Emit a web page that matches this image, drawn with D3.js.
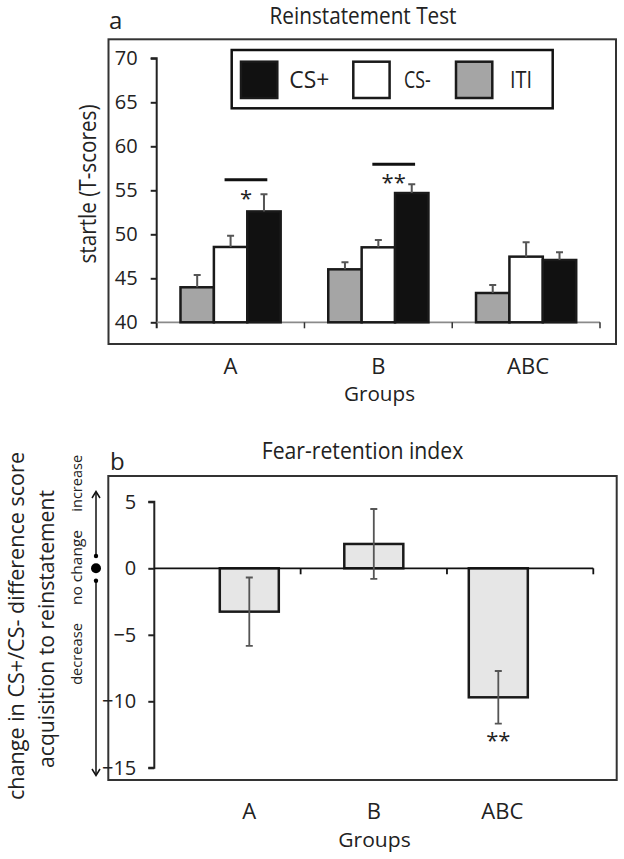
<!DOCTYPE html>
<html>
<head>
<meta charset="utf-8">
<script src="https://cdn.jsdelivr.net/npm/d3@7"></script>
<style>
  body { margin: 0; background: #fff; }
  svg { display: block; }
  text { font-family: "Open Sans", "Noto Sans", sans-serif; fill: #222; }
</style>
</head>
<body>
<script>
// ---------------- data ----------------
const groups = ["A", "B", "ABC"];
const conditions = ["ITI", "CS-", "CS+"];
const itiMean = [43.98, 46.02, 43.33];
const itiSE = [1.40, 0.80, 0.91];
const csMinusMean = [48.56, 48.52, 47.46];
const csMinusSE = [1.28, 0.83, 1.63];
const csPlusMean = [52.60, 54.69, 47.08];
const csPlusSE = [1.95, 0.99, 0.87];
const yTicksA = [40, 45, 50, 55, 60, 65, 70];
const sigGroups = ["A", "B"];
const sigLevel = [56.2, 57.95];
const sigStars = ["*", "**"];

const fearIndex = [-3.26, 1.83, -9.70];
const fearSE = [2.57, 2.63, 1.98];
const fearStars = ["", "", "**"];
const yTicksB = [5, 0, -5, -10, -15];

const legendLabels = ["CS+", "CS-", "ITI"];
const fills = { "ITI": "#a5a5a5", "CS-": "#ffffff", "CS+": "#111111" };

// ---------------- setup ----------------
const W = 624, H = 859;
const svg = d3.select("body").append("svg").attr("width", W).attr("height", H);
svg.append("rect").attr("width", W).attr("height", H).attr("fill", "#fff");

function fit(sel, len) {
  return sel.attr("textLength", len).attr("lengthAdjust", "spacingAndGlyphs");
}

// ================= PANEL A =================
const rowsA = groups.map((g, i) => ({
  group: g,
  vals: [
    { cond: "ITI", mean: itiMean[i], se: itiSE[i] },
    { cond: "CS-", mean: csMinusMean[i], se: csMinusSE[i] },
    { cond: "CS+", mean: csPlusMean[i], se: csPlusSE[i] }
  ]
}));

const yA = d3.scaleLinear().domain([40, 70]).range([322.3, 58.3]);
const x0A = d3.scaleBand().domain(groups).range([156.7, 600]).paddingInner(0).paddingOuter(0);
const x1A = d3.scaleBand().domain(conditions).range([0, x0A.bandwidth()]).paddingInner(0).paddingOuter(0.7125);

// frame
svg.append("rect").attr("x", 108.5).attr("y", 39.3).attr("width", 507.5).attr("height", 304.7)
  .attr("fill", "none").attr("stroke", "#333").attr("stroke-width", 2);

// title + panel letter
fit(svg.append("text").attr("x", 363).attr("y", 23.5).attr("text-anchor", "middle")
  .attr("font-size", 23).text("Reinstatement Test"), 187);
svg.append("text").attr("x", 109).attr("y", 28.5).attr("font-size", 24).text("a");

// y axis
const gyA = svg.append("g").attr("transform", "translate(156.7,0)")
  .call(d3.axisLeft(yA).tickValues(yTicksA).tickSize(6).tickPadding(13).tickFormat(d3.format("d")));
gyA.select(".domain").attr("stroke", "#222").attr("stroke-width", 2).attr("d", `M-6,${yA(70)}H0V${yA(40) + 6}`);
gyA.selectAll(".tick line").attr("stroke", "#222").attr("stroke-width", 2);
gyA.selectAll(".tick text").attr("font-size", 20).attr("font-family", "Open Sans").attr("fill", "#222");

// x baseline & ticks
svg.append("line").attr("x1", 156.7).attr("x2", 600).attr("y1", yA(40)).attr("y2", yA(40))
  .attr("stroke", "#8a8a8a").attr("stroke-width", 1.8);
const edgesA = groups.map(g => x0A(g) + x0A.bandwidth());
svg.selectAll(".xtickA").data(edgesA).join("line")
  .attr("x1", d => d).attr("x2", d => d).attr("y1", yA(40)).attr("y2", yA(40) + 6)
  .attr("stroke", "#333").attr("stroke-width", 1.5);

// bars
const gGroupsA = svg.selectAll(".grpA").data(rowsA).join("g")
  .attr("transform", d => `translate(${x0A(d.group)},0)`);
gGroupsA.selectAll("rect").data(d => d.vals).join("rect")
  .attr("x", d => x1A(d.cond)).attr("width", x1A.bandwidth())
  .attr("y", d => yA(d.mean)).attr("height", d => yA(40) - yA(d.mean))
  .attr("fill", d => fills[d.cond]).attr("stroke", "#1a1a1a").attr("stroke-width", 2.5);
// error bars (upward)
gGroupsA.selectAll(".err").data(d => d.vals).join("path")
  .attr("d", d => {
    const cx = x1A(d.cond) + x1A.bandwidth() / 2;
    const top = yA(d.mean + d.se);
    return `M${cx},${yA(d.mean)}V${top}M${cx - 3.5},${top}H${cx + 3.5}`;
  })
  .attr("fill", "none").attr("stroke", "#555").attr("stroke-width", 2);

// significance lines
sigGroups.forEach((g, i) => {
  const xs = x0A(g) + x1A("CS-") + x1A.bandwidth() * 0.32;
  const xe = x0A(g) + x1A("CS+") + x1A.bandwidth() * 0.6;
  svg.append("line").attr("x1", xs).attr("x2", xe).attr("y1", yA(sigLevel[i])).attr("y2", yA(sigLevel[i]))
    .attr("stroke", "#111").attr("stroke-width", 3);
  svg.append("text").attr("x", (xs + xe) / 2).attr("y", yA(sigLevel[i]) + 26)
    .attr("text-anchor", "middle").attr("font-size", 22).attr("fill", "#444").text(sigStars[i]);
});

// x labels
svg.selectAll(".xlabA").data(groups).join("text")
  .attr("x", d => x0A(d) + x0A.bandwidth() / 2 + (d === "ABC" ? 2 : 0)).attr("y", 373.5)
  .attr("text-anchor", "middle").attr("font-size", 22).text(d => d);
fit(svg.append("text").attr("x", 379.5).attr("y", 401).attr("text-anchor", "middle")
  .attr("font-size", 20).text("Groups"), 71);

// y label
fit(svg.append("text").attr("transform", "translate(96,184) rotate(-90)").attr("text-anchor", "middle")
  .attr("font-size", 23).text("startle (T-scores)"), 159);

// legend
svg.append("rect").attr("x", 231.7).attr("y", 50).attr("width", 321).attr("height", 58.3)
  .attr("fill", "#fff").attr("stroke", "#111").attr("stroke-width", 2.5);
const legX = [241, 353.3, 456];
const legTX = [289.3, 404, 510];
const legTW = [40, 26.7, 22];
legendLabels.forEach((l, i) => {
  svg.append("rect").attr("x", legX[i]).attr("y", 61.7).attr("width", 36.3).attr("height", 36.3)
    .attr("fill", fills[l]).attr("stroke", "#1a1a1a").attr("stroke-width", 2.5);
  fit(svg.append("text").attr("x", legTX[i]).attr("y", 87.5).attr("font-size", 23).text(l), legTW[i]);
});

// ================= PANEL B =================
const yB = d3.scaleLinear().domain([-15, 5]).range([767.8, 501.8]);
const xB = d3.scaleBand().domain(groups).range([154.3, 593.3]).padding(0.526);
const bandB = (593.3 - 154.3) / groups.length;

svg.append("rect").attr("x", 108.3).attr("y", 476).attr("width", 508.4).attr("height", 304)
  .attr("fill", "none").attr("stroke", "#333").attr("stroke-width", 2);

fit(svg.append("text").attr("x", 362.5).attr("y", 458.5).attr("text-anchor", "middle")
  .attr("font-size", 23).text("Fear-retention index"), 201.6);
svg.append("text").attr("x", 110).attr("y", 470).attr("font-size", 24).text("b");

// y axis
const gyB = svg.append("g").attr("transform", "translate(154.3,0)")
  .call(d3.axisLeft(yB).tickValues(yTicksB).tickSize(6).tickPadding(12).tickFormat(d3.format("d")));
gyB.select(".domain").attr("stroke", "#222").attr("stroke-width", 2).attr("d", `M-6,${yB(5)}H0V${yB(-15)}H-6`);
gyB.selectAll(".tick line").attr("stroke", "#222").attr("stroke-width", 2);
gyB.selectAll(".tick text").attr("font-size", 20).attr("font-family", "Open Sans").attr("fill", "#222");

// bars
const rowsB = groups.map((g, i) => ({ group: g, v: fearIndex[i], se: fearSE[i], star: fearStars[i] }));
svg.selectAll(".barB").data(rowsB).join("rect")
  .attr("x", d => xB(d.group)).attr("width", xB.bandwidth())
  .attr("y", d => yB(Math.max(0, d.v))).attr("height", d => Math.abs(yB(d.v) - yB(0)))
  .attr("fill", "#e6e6e6").attr("stroke", "#1a1a1a").attr("stroke-width", 2.5);

// zero line & ticks
svg.append("line").attr("x1", 154.3).attr("x2", 593.3).attr("y1", yB(0)).attr("y2", yB(0))
  .attr("stroke", "#111").attr("stroke-width", 1.8);
svg.selectAll(".xtickB").data(groups).join("line")
  .attr("x1", (d, i) => 154.3 + bandB * (i + 1)).attr("x2", (d, i) => 154.3 + bandB * (i + 1))
  .attr("y1", yB(0)).attr("y2", yB(0) + 6).attr("stroke", "#111").attr("stroke-width", 1.8);

// error bars (both directions)
svg.selectAll(".errB").data(rowsB).join("path")
  .attr("d", d => {
    const cx = xB(d.group) + xB.bandwidth() / 2;
    const t = yB(d.v + d.se), b = yB(d.v - d.se);
    return `M${cx},${t}V${b}M${cx - 3.5},${t}H${cx + 3.5}M${cx - 3.5},${b}H${cx + 3.5}`;
  })
  .attr("fill", "none").attr("stroke", "#555").attr("stroke-width", 1.8);
svg.selectAll(".starB").data(rowsB.filter(d => d.star)).join("text")
  .attr("x", d => xB(d.group) + xB.bandwidth() / 2).attr("y", d => yB(d.v - d.se) + 24)
  .attr("text-anchor", "middle").attr("font-size", 22).attr("fill", "#444").text(d => d.star);

// x labels
svg.selectAll(".xlabB").data(groups).join("text")
  .attr("x", d => xB(d) + xB.bandwidth() / 2 + (d === "ABC" ? 4 : 0)).attr("y", 819)
  .attr("text-anchor", "middle").attr("font-size", 22).text(d => d);
fit(svg.append("text").attr("x", 374.5).attr("y", 847).attr("text-anchor", "middle")
  .attr("font-size", 20).text("Groups"), 72.4);

// big y label (two lines)
fit(svg.append("text").attr("transform", "translate(24,626) rotate(-90)").attr("text-anchor", "middle")
  .attr("font-size", 22).text("change in CS+/CS- difference score"), 348);
fit(svg.append("text").attr("transform", "translate(54,629) rotate(-90)").attr("text-anchor", "middle")
  .attr("font-size", 22).text("acquisition to reinstatement"), 278);

// small direction labels
const dirLabels = [["increase", 483.3, 56.7], ["no change", 567.5, 75], ["decrease", 654, 61.7]];
dirLabels.forEach(([t, cy, len]) => {
  fit(svg.append("text").attr("transform", `translate(82,${cy}) rotate(-90)`).attr("text-anchor", "middle")
    .attr("font-size", 15).text(t), len);
});

// arrow with dots
const ax = 96;
svg.append("line").attr("x1", ax).attr("x2", ax).attr("y1", 492).attr("y2", 556).attr("stroke", "#111").attr("stroke-width", 1.5);
svg.append("line").attr("x1", ax).attr("x2", ax).attr("y1", 581).attr("y2", 775).attr("stroke", "#111").attr("stroke-width", 1.5);
svg.append("path").attr("d", `M${ax - 4},${498}L${ax},${491.5}L${ax + 4},${498}`).attr("fill", "none").attr("stroke", "#111").attr("stroke-width", 1.5);
svg.append("path").attr("d", `M${ax - 4},${769}L${ax},${775.5}L${ax + 4},${769}`).attr("fill", "none").attr("stroke", "#111").attr("stroke-width", 1.5);
svg.append("circle").attr("cx", ax).attr("cy", yB(0)).attr("r", 5).attr("fill", "#000");
svg.append("circle").attr("cx", ax).attr("cy", 556).attr("r", 2.2).attr("fill", "#000");
svg.append("circle").attr("cx", ax).attr("cy", 580.7).attr("r", 2.2).attr("fill", "#000");
</script>
</body>
</html>
